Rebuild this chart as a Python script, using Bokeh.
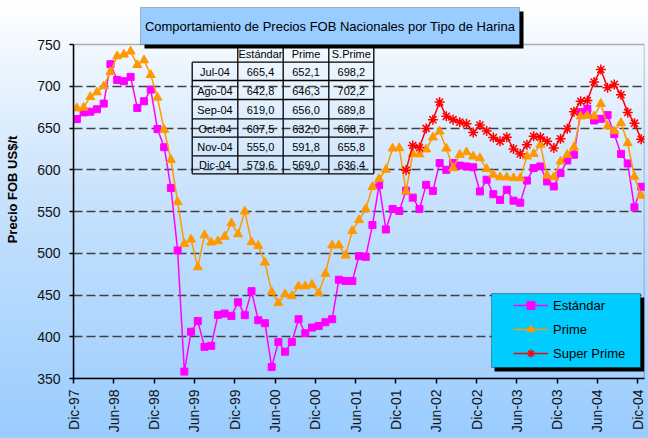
import math
from bokeh.plotting import figure
from bokeh.models import (Range1d, FixedTicker, Label, BoxAnnotation, Legend,
                          LegendItem, ColumnDataSource)
from bokeh.core.properties import value
from bokeh.embed import file_html
from bokeh.resources import INLINE

# ---------------- data ----------------
title_text = "Comportamiento de Precios FOB Nacionales por Tipo de Harina"
y_title = "Precio FOB US$/t"
tick_labels = ["Dic-97", "Jun-98", "Dic-98", "Jun-99", "Dic-99", "Jun-00", "Dic-00",
               "Jun-01", "Dic-01", "Jun-02", "Dic-02", "Jun-03", "Dic-03", "Jun-04", "Dic-04"]
series_names = ["Estándar", "Prime", "Super Prime"]
table_headers = ["Estándar", "Prime", "S.Prime"]
table_months = ["Jul-04", "Ago-04", "Sep-04", "Oct-04", "Nov-04", "Dic-04"]

# monthly, Dic-97 .. Dic-04
estandar = [660.7, 668.7, 669.5, 672.4, 679.2, 726.4, 707.6, 706.0, 711.2, 674.0,
            682.0, 696.0, 648.7, 627.0, 578.2, 503.3, 358.3, 406.0, 418.8, 387.9,
            389.1, 426.2, 427.8, 425.0, 441.4, 425.8, 454.6, 419.8, 416.2, 363.7,
            393.8, 382.1, 393.8, 421.0, 404.2, 411.0, 413.0, 417.4, 421.0, 468.3,
            466.8, 466.8, 496.5, 495.7, 533.7, 581.8, 528.5, 553.0, 550.6, 575.0,
            566.6, 553.0, 581.9, 574.7, 608.0, 600.0, 608.0, 605.0, 604.0, 603.0,
            574.0, 588.0, 570.7, 563.9, 576.0, 563.0, 560.6, 587.0, 602.0, 604.0,
            586.0, 580.0, 596.0, 611.0, 618.0, 669.0, 673.0, 659.0, 661.0, 665.4,
            642.8, 619.0, 607.5, 555.0, 579.6]
prime = [673.6, 674.4, 687.2, 692.8, 700.0, 717.2, 736.0, 738.0, 741.7, 725.6,
         731.2, 713.6, 686.4, 647.9, 611.9, 561.4, 511.3, 516.5, 483.3, 521.7,
         513.0, 514.5, 520.0, 536.0, 522.8, 550.0, 513.3, 509.0, 489.0, 453.6,
         440.3, 451.0, 448.7, 460.5, 460.5, 462.5, 452.3, 475.5, 509.5, 509.5,
         497.4, 526.8, 539.8, 553.0, 579.5, 589.0, 600.0, 625.5, 626.0, 574.0,
         619.0, 618.5, 624.5, 638.8, 646.0, 625.5, 602.0, 618.0, 621.0, 616.0,
         614.0, 601.0, 594.0, 591.0, 591.0, 590.0, 590.0, 616.0, 619.0, 630.0,
         593.0, 591.0, 610.0, 618.0, 627.0, 664.0, 664.8, 664.0, 679.0, 652.1,
         646.3, 656.0, 632.0, 591.8, 569.0]
# Ene-02 .. Dic-04
sp_start = 49
super_prime = [599.5, 629.0, 626.5, 649.5, 660.0, 681.0, 664.0, 660.0, 657.0, 655.0,
               644.5, 653.5, 646.5, 638.5, 634.0, 639.0, 625.0, 619.0, 630.0, 640.0,
               639.0, 634.0, 626.0, 637.0, 649.0, 669.6, 682.0, 683.0, 705.0, 720.0,
               698.2, 702.2, 689.8, 668.7, 655.8, 636.4]

# ---------------- figure ----------------
n = len(estandar)
x_all = [i + 0.5 for i in range(n)]
x_sp = [i + 0.5 for i in range(sp_start, sp_start + len(super_prime))]

FONT = "Liberation Sans"
PX_PER_UNIT = 334.0 / 400.0      # vertical scale of the value axis
Y_TOP = 750 + 44.0 / PX_PER_UNIT  # frame extended to the top of the canvas

p = figure(width=648, height=438, output_backend="svg", toolbar_location=None,
           x_range=Range1d(0, n), y_range=Range1d(350, Y_TOP),
           min_border_left=73, min_border_right=4, min_border_top=0,
           min_border_bottom=60)
p.background_fill_alpha = 0
p.border_fill_alpha = 0
p.styles = {"background": "linear-gradient(180deg, #FFFFFF 0%, #C8E2FC 45%, #99CCFF 100%)"}
p.outline_line_color = None

# helpers: pixel layout -> data coordinates
def dx(px):
    return (px - 73.0) / (571.0 / n)

def dy(py):
    return 750.0 - (py - 44.0) / PX_PER_UNIT

# axes
p.xaxis.ticker = FixedTicker(ticks=list(range(0, n, 6)))
p.xaxis.major_label_overrides = {i * 6: lab for i, lab in enumerate(tick_labels)}
p.xaxis.major_label_orientation = math.pi / 2
p.xaxis.major_tick_out = 5
p.xaxis.major_tick_in = 0
p.xaxis.minor_tick_line_color = None
p.xaxis.major_label_standoff = 6

p.yaxis.ticker = FixedTicker(ticks=list(range(350, 751, 50)))
p.yaxis.bounds = (350, 750)
p.yaxis.major_tick_out = 4
p.yaxis.major_tick_in = 0
p.yaxis.minor_tick_line_color = None
p.yaxis.major_label_standoff = 9
p.yaxis.axis_label = y_title
p.yaxis.axis_label_text_font = FONT
p.yaxis.axis_label_text_font_size = "13px"
p.yaxis.axis_label_text_font_style = "bold"
p.yaxis.axis_label_text_color = "black"
p.yaxis.axis_label_standoff = 14

for ax in (p.xaxis, p.yaxis):
    ax.axis_line_color = "black"
    ax.axis_line_width = 1.5
    ax.major_tick_line_color = "black"
    ax.major_tick_line_width = 1.5
    ax.major_label_text_font = FONT
    ax.major_label_text_font_size = "14px"
    ax.major_label_text_color = "#111111"

p.xgrid.visible = False
p.ygrid.ticker = FixedTicker(ticks=list(range(400, 701, 50)))
p.ygrid.grid_line_color = "#404040"
p.ygrid.grid_line_dash = "9 4"
p.ygrid.grid_line_width = 1.3

# plot-area border (top and right sides)
p.add_layout(BoxAnnotation(left=0, right=n, bottom=350, top=750, fill_alpha=0,
                           line_color="black", line_width=1.5, level="underlay"))

# ---------------- table (last six months) ----------------
col_edges = [191.7, 237.3, 282.7, 328.3, 373.3]
row_edges = [43.3, 61.7, 80.0, 99.0, 118.3, 136.7, 155.3, 173.3]
x0, y0, x1, y1 = [], [], [], []
x0.append(dx(col_edges[1])); x1.append(dx(col_edges[-1]))
y0.append(dy(row_edges[0])); y1.append(dy(row_edges[0]))
for r in row_edges[1:]:
    x0.append(dx(col_edges[0])); x1.append(dx(col_edges[-1]))
    y0.append(dy(r)); y1.append(dy(r))
x0.append(dx(col_edges[0])); x1.append(dx(col_edges[0]))
y0.append(dy(row_edges[1])); y1.append(dy(row_edges[-1]))
for c in col_edges[1:]:
    x0.append(dx(c)); x1.append(dx(c))
    y0.append(dy(row_edges[0])); y1.append(dy(row_edges[-1]))
p.segment(x0=x0, y0=y0, x1=x1, y1=y1, line_color="black", line_width=1.3)

col_mid = [(col_edges[k] + col_edges[k + 1]) / 2 for k in range(4)]
row_mid = [(row_edges[k] + row_edges[k + 1]) / 2 for k in range(7)]
tx, ty, tt = [], [], []
for k, h in enumerate(table_headers):
    tx.append(dx(col_mid[k + 1])); ty.append(dy(row_mid[0] + 0.5)); tt.append(h)
last_e = estandar[-len(table_months):]
last_p = prime[-len(table_months):]
last_s = super_prime[-len(table_months):]
for r, m in enumerate(table_months):
    vals = [m] + [f"{v:.1f}".replace(".", ",") for v in (last_e[r], last_p[r], last_s[r])]
    for k, t in enumerate(vals):
        tx.append(dx(col_mid[k])); ty.append(dy(row_mid[r + 1] + 0.5)); tt.append(t)
p.text(x=tx, y=ty, text=tt, text_align="center", text_baseline="middle",
       text_font=value(FONT), text_font_size=value("11px"), text_color="black")

# ---------------- series ----------------
src_e = ColumnDataSource(dict(x=x_all, y=estandar))
src_p = ColumnDataSource(dict(x=x_all, y=prime))
src_s = ColumnDataSource(dict(x=x_sp, y=super_prime))

le = p.line("x", "y", source=src_e, line_color="#FF00FF", line_width=1.5)
se = p.scatter("x", "y", source=src_e, marker="square", size=7,
               fill_color="#FF00FF", line_color="#FF00FF")
lp = p.line("x", "y", source=src_p, line_color="#FF9900", line_width=1.5)
sp = p.scatter("x", "y", source=src_p, marker="triangle", size=9,
               fill_color="#FF9900", line_color="#FF9900")
ls = p.line("x", "y", source=src_s, line_color="#FF0000", line_width=1.5)
ss = p.scatter("x", "y", source=src_s, marker="asterisk", size=10,
               line_color="#FF0000", line_width=1.5)

# ---------------- title box ----------------
p.add_layout(BoxAnnotation(left=dx(144), right=dx(523), top=dy(11), bottom=dy(48),
                           fill_color="black", fill_alpha=1, line_alpha=0))
p.add_layout(BoxAnnotation(left=dx(140), right=dx(519), top=dy(7), bottom=dy(44),
                           fill_color="#99CCFF", fill_alpha=1,
                           line_color="#333333", line_width=1))
p.add_layout(Label(x=dx(329.5), y=dy(26), text=title_text, text_align="center",
                   text_baseline="middle", text_font=FONT, text_font_size="13px",
                   text_color="black"))

# ---------------- legend ----------------
p.add_layout(BoxAnnotation(left=dx(494), right=dx(644), top=dy(297), bottom=dy(371),
                           fill_color="black", fill_alpha=1, line_alpha=0))
p.add_layout(BoxAnnotation(left=dx(491), right=dx(640), top=dy(293), bottom=dy(367),
                           fill_color="#00CCFF", fill_alpha=1,
                           line_color="black", line_width=1))
legend = Legend(items=[LegendItem(label=series_names[0], renderers=[le, se]),
                       LegendItem(label=series_names[1], renderers=[lp, sp]),
                       LegendItem(label=series_names[2], renderers=[ls, ss])],
                location=(440, 15), padding=0, margin=0, spacing=4,
                glyph_width=35, glyph_height=20, label_height=20, label_standoff=5,
                background_fill_alpha=0, border_line_alpha=0,
                label_text_font=FONT, label_text_font_size="13px",
                label_text_color="black")
p.add_layout(legend)

open("out.html", "w").write(file_html(p, INLINE))
